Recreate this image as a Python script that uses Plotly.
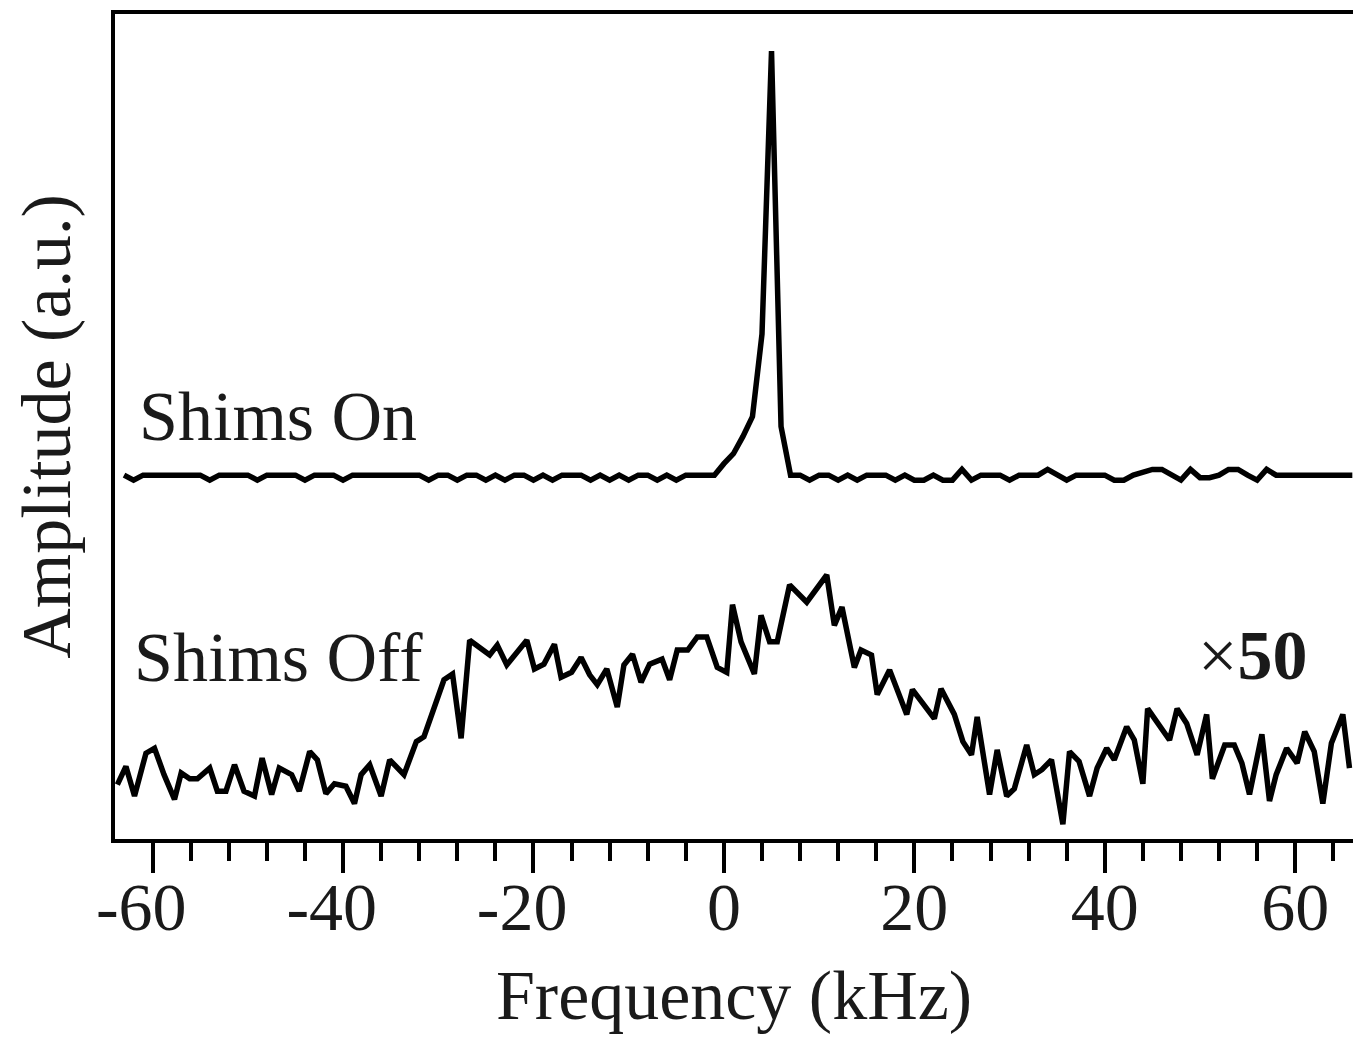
import plotly.graph_objects as go

# ---------------- data ----------------
# "Shims Off" spectrum (x50): frequency (kHz) and amplitude (a.u.)
off_freq = [-63.7, -62.8, -61.9, -60.7, -59.8, -58.8, -57.7, -57.0, -56.1, -55.3,
            -54.0, -53.2, -52.3, -51.4, -50.4, -49.3, -48.5, -47.5, -46.7, -45.4,
            -44.6, -43.5, -42.7, -41.8, -40.9, -39.7, -38.8, -38.1, -37.2, -36.0,
            -35.1, -33.6, -32.3, -31.5, -29.4, -28.5, -27.6, -26.7, -24.6, -23.8,
            -22.8, -20.7, -19.9, -18.9, -17.8, -17.1, -16.0, -15.0, -14.1, -13.3,
            -12.3, -11.2, -10.5, -9.6, -8.7, -7.8, -6.5, -5.7, -4.9, -3.8,
            -2.8, -1.8, -0.7, 0.3, 0.9, 1.8, 3.2, 3.9, 4.8, 5.6,
            6.9, 8.7, 10.8, 11.6, 12.4, 13.7, 14.4, 15.5, 16.1, 17.4,
            19.2, 19.8, 22.1, 22.8, 24.2, 25.1, 26.0, 26.6, 27.9, 28.7,
            29.7, 30.5, 31.8, 32.6, 33.4, 34.4, 35.6, 36.3, 37.3, 38.4,
            39.2, 40.2, 41.0, 42.3, 43.1, 44.0, 44.5, 45.5, 46.8, 47.6,
            48.6, 49.7, 50.7, 51.3, 52.6, 53.6, 54.4, 55.2, 56.5, 57.3,
            58.0, 59.1, 60.2, 61.0, 62.0, 62.9, 63.8, 65.0, 65.7]
off_amp = [6.6, 8.8, 5.2, 10.4, 11.0, 7.8, 4.8, 8.0, 7.3, 7.3,
           8.6, 5.8, 5.8, 9.0, 5.8, 5.2, 9.8, 5.4, 8.6, 7.8,
           5.8, 10.6, 9.6, 5.5, 6.7, 6.4, 4.3, 7.8, 9.0, 5.2,
           9.6, 7.8, 11.8, 12.4, 19.3, 20.0, 12.2, 24.1, 22.3, 23.5,
           21.1, 24.1, 20.6, 21.2, 23.6, 19.6, 20.2, 22.0, 19.9, 18.7,
           20.6, 16.0, 21.1, 22.4, 19.0, 21.2, 21.8, 19.3, 22.9, 22.9,
           24.5, 24.5, 20.8, 20.2, 28.4, 23.9, 20.0, 27.1, 23.9, 23.9,
           30.8, 28.7, 32.0, 25.9, 28.1, 20.8, 22.9, 22.3, 17.5, 20.5,
           15.1, 18.1, 14.6, 18.2, 15.1, 11.8, 10.2, 14.8, 5.4, 10.8,
           5.2, 6.1, 11.4, 7.8, 8.4, 9.6, 1.8, 10.6, 9.4, 5.2,
           8.6, 11.0, 9.6, 13.6, 12.0, 6.7, 15.8, 14.2, 12.0, 15.8,
           14.0, 10.2, 15.1, 7.3, 11.4, 11.4, 9.2, 5.4, 12.7, 4.6,
           7.8, 11.0, 9.2, 13.0, 10.6, 4.3, 11.6, 15.1, 8.6]

# "Shims On" spectrum: 1 kHz steps from -63 to 66 kHz
on_freq = list(range(-63, 67))
on_amp = [
    44.1, 43.5, 44.1, 44.1, 44.1, 44.1, 44.1, 44.1, 44.1, 43.5,   # -63 .. -54
    44.1, 44.1, 44.1, 44.1, 43.5, 44.1, 44.1, 44.1, 44.1, 43.5,   # -53 .. -44
    44.1, 44.1, 44.1, 43.5, 44.1, 44.1, 44.1, 44.1, 44.1, 44.1,   # -43 .. -34
    44.1, 44.1, 43.5, 44.1, 44.1, 43.5, 44.1, 44.1, 43.5, 44.1,   # -33 .. -24
    43.5, 44.1, 44.1, 43.5, 44.1, 43.5, 44.1, 44.1, 44.1, 43.5,   # -23 .. -14
    44.1, 43.5, 44.1, 43.5, 44.1, 44.1, 43.5, 44.1, 43.5, 44.1,   # -13 .. -4
    44.1, 44.1, 44.1, 45.5, 46.7, 48.8, 51.2, 61.2, 95.5, 50.0,   #  -3 .. 6
    44.1, 44.1, 43.5, 44.1, 44.1, 43.5, 44.1, 43.5, 44.1, 44.1,   #   7 .. 16
    44.1, 43.5, 44.1, 43.5, 43.5, 44.1, 43.5, 43.5, 44.8, 43.5,   #  17 .. 26
    44.1, 44.1, 44.1, 43.5, 44.1, 44.1, 44.1, 44.8, 44.1, 43.5,   #  27 .. 36
    44.1, 44.1, 44.1, 44.1, 43.5, 43.5, 44.1, 44.4, 44.8, 44.8,   #  37 .. 46
    44.1, 43.5, 44.8, 43.8, 43.8, 44.1, 44.8, 44.8, 44.1, 43.5,   #  47 .. 56
    44.8, 44.1, 44.1, 44.1, 44.1, 44.1, 44.1, 44.1, 44.1, 44.1,   #  57 .. 66
]

x_tickvals = [-60, -40, -20, 0, 20, 40, 60]
# a trailing three-per-em space balances the leading hyphen so the digits sit on the tick
x_ticktext = ["-60\u2004", "-40\u2004", "-20\u2004", "0", "20", "40", "60"]

labels = ["Shims On", "Shims Off"]
scale_label = "×<b>50</b>"

# ---------------- figure ----------------
SERIF = "Liberation Serif, Times New Roman, serif"
INK = "#1a1a1a"

fig = go.Figure()
fig.add_trace(go.Scatter(x=on_freq, y=on_amp, mode="lines",
                         line=dict(color="black", width=5.5), name=labels[0],
                         showlegend=False))
fig.add_trace(go.Scatter(x=off_freq, y=off_amp, mode="lines",
                         line=dict(color="black", width=5.5), name=labels[1],
                         showlegend=False))

fig.add_annotation(text=labels[0], xref="paper", yref="paper", x=0.0178, y=0.5127,
                   xanchor="left", yanchor="middle", showarrow=False,
                   font=dict(family=SERIF, size=70, color=INK))
fig.add_annotation(text=labels[1], xref="paper", yref="paper", x=0.0137, y=0.2195,
                   xanchor="left", yanchor="middle", showarrow=False,
                   font=dict(family=SERIF, size=70, color=INK))
fig.add_annotation(text=scale_label, xref="paper", yref="paper", x=0.9641, y=0.223,
                   xanchor="right", yanchor="middle", showarrow=False,
                   font=dict(family=SERIF, size=70, color=INK))

fig.update_layout(
    width=1353, height=1032,
    margin=dict(l=107, r=8, t=2, b=201),
    paper_bgcolor="white", plot_bgcolor="white",
    font=dict(family=SERIF, color=INK),
    showlegend=False,
)
fig.update_xaxes(
    range=[-63.95, 66.07], showgrid=False, zeroline=False,
    showline=True, linecolor="black", linewidth=4, mirror=True,
    ticks="outside", ticklen=30, tickwidth=4, tickcolor="black",
    tickvals=x_tickvals, ticktext=x_ticktext,
    tickfont=dict(family=SERIF, size=68, color=INK),
    ticklabelstandoff=-25,
    minor=dict(dtick=4, tick0=0, ticks="outside", ticklen=18, tickwidth=4,
               tickcolor="black", showgrid=False),
    title=dict(text="Frequency (kHz)", font=dict(family=SERIF, size=70, color=INK),
               standoff=27),
)
fig.update_yaxes(
    range=[0, 100], showgrid=False, zeroline=False,
    showline=True, linecolor="black", linewidth=4, mirror=True,
    ticks="", showticklabels=False,
    title=dict(text="Amplitude (a.u.)", font=dict(family=SERIF, size=70, color=INK),
               standoff=42),
)

fig.write_html("out.html")
